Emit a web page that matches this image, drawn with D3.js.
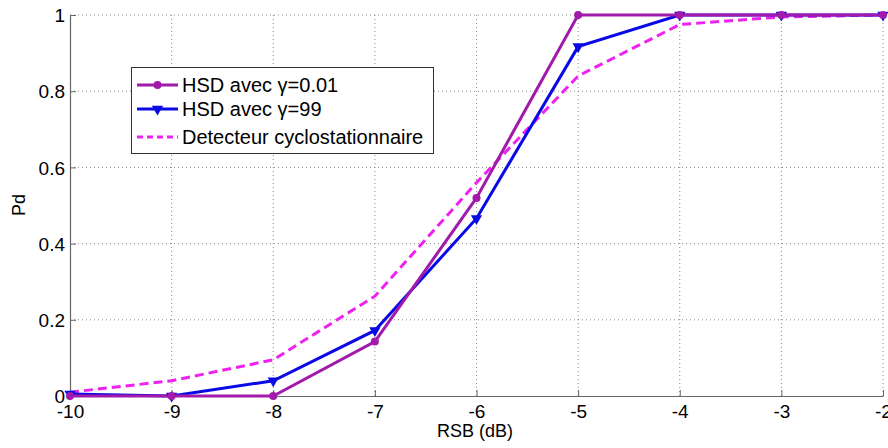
<!DOCTYPE html>
<html><head><meta charset="utf-8">
<script src="https://cdn.jsdelivr.net/npm/d3@7"></script>
<style>
body{margin:0;background:#fff;}
text{font-family:"Liberation Sans",Arial,sans-serif;}
</style></head>
<body><svg id="c" width="888" height="448"></svg>
<script>
const xValues = [-10,-9,-8,-7,-6,-5,-4,-3,-2];
const hsd001 = [0,0,0,0.143,0.52,1,1,1,1];
const hsd99 = [0.005,0,0.04,0.172,0.466,0.917,1,1,1];
const cyclo = [0.01,0.04,0.095,0.262,0.56,0.84,0.975,0.995,1];
const xTicks = [-10,-9,-8,-7,-6,-5,-4,-3,-2];
const yTicks = [0,0.2,0.4,0.6,0.8,1];
const legendLabels = ["HSD avec \u03b3=0.01","HSD avec \u03b3=99","Detecteur cyclostationnaire"];

const svg = d3.select("#c");
const x = d3.scaleLinear().domain([-10,-2]).range([70,883]);
const y = d3.scaleLinear().domain([0,1]).range([396,15]);

// grid
const g = svg.append("g");
g.selectAll(".gx").data(xTicks.slice(1)).join("line")
 .attr("x1",d=>x(d)).attr("x2",d=>x(d)).attr("y1",y(0)).attr("y2",y(1))
 .attr("stroke","#888").attr("stroke-width",1).attr("stroke-dasharray","1,3");
g.selectAll(".gy").data(yTicks.slice(1)).join("line")
 .attr("x1",x(-10)).attr("x2",x(-2)).attr("y1",d=>y(d)).attr("y2",d=>y(d))
 .attr("stroke","#888").attr("stroke-width",1).attr("stroke-dasharray","1,3");

// axes
const xa = svg.append("g").attr("transform",`translate(0,${y(0)})`)
 .call(d3.axisBottom(x).tickValues(xTicks).tickFormat(d=>String(d)).tickSizeInner(-6).tickSizeOuter(0).tickPadding(8));
const ya = svg.append("g").attr("transform",`translate(${x(-10)},0)`)
 .call(d3.axisLeft(y).tickValues(yTicks).tickFormat(d=>String(d)).tickSizeInner(-6).tickSizeOuter(0).tickPadding(5));
[xa,ya].forEach(a=>{
  a.select(".domain").attr("stroke","#666").attr("stroke-width",1.2);
  a.selectAll(".tick line").attr("stroke","#666");
  a.selectAll("text").attr("font-size",19).attr("fill","#000").attr("font-family","Liberation Sans, Arial, sans-serif");
});
xa.selectAll(".tick text").attr("y",0).attr("dy",0).attr("transform","translate(0,22)");
ya.selectAll(".tick text").attr("dy","0.35em");

svg.append("text").attr("x",475).attr("y",437).attr("text-anchor","middle").attr("font-size",18).text("RSB (dB)");
svg.append("text").attr("transform","translate(25,205) rotate(-90)").attr("text-anchor","middle").attr("font-size",18).text("Pd");

const line = d3.line().x((d,i)=>x(xValues[i])).y(d=>y(d));
const cPurple = "#a21aab", cBlue = "#0a0ae6", cMag = "#ee22ee";

svg.append("path").datum(cyclo).attr("d",line).attr("fill","none").attr("stroke",cMag).attr("stroke-width",3).attr("stroke-dasharray","9,5");
svg.append("path").datum(hsd99).attr("d",line).attr("fill","none").attr("stroke",cBlue).attr("stroke-width",3);
svg.append("path").datum(hsd001).attr("d",line).attr("fill","none").attr("stroke",cPurple).attr("stroke-width",3);

const tri = d3.symbol().type(d3.symbolTriangle).size(55);
svg.selectAll(".mb").data(hsd99).join("path")
 .attr("d",tri).attr("transform",(d,i)=>`translate(${x(xValues[i])},${y(d)}) rotate(180)`)
 .attr("fill",cBlue);
svg.selectAll(".mp").data(hsd001).join("circle")
 .attr("cx",(d,i)=>x(xValues[i])).attr("cy",d=>y(d)).attr("r",4).attr("fill",cPurple);

// legend
const lg = svg.append("g");
lg.append("rect").attr("x",131.5).attr("y",67.5).attr("width",302).attr("height",86).attr("fill","#fff").attr("stroke","#333").attr("stroke-width",1);
const rowsY = [85,109,137];
const styles = [{c:cPurple,dash:null,m:"c"},{c:cBlue,dash:null,m:"t"},{c:cMag,dash:"6,4",m:null}];
styles.forEach((s,i)=>{
  lg.append("line").attr("x1",137).attr("x2",178).attr("y1",rowsY[i]).attr("y2",rowsY[i])
    .attr("stroke",s.c).attr("stroke-width",3).attr("stroke-dasharray",s.dash);
  if(s.m==="c") lg.append("circle").attr("cx",157.5).attr("cy",rowsY[i]).attr("r",4).attr("fill",s.c);
  if(s.m==="t") lg.append("path").attr("d",tri).attr("transform",`translate(157.5,${rowsY[i]}) rotate(180)`).attr("fill",s.c);
  lg.append("text").attr("x",182).attr("y",rowsY[i]).attr("dy","0.35em").attr("font-size",20).text(legendLabels[i]);
});
</script></body></html>
